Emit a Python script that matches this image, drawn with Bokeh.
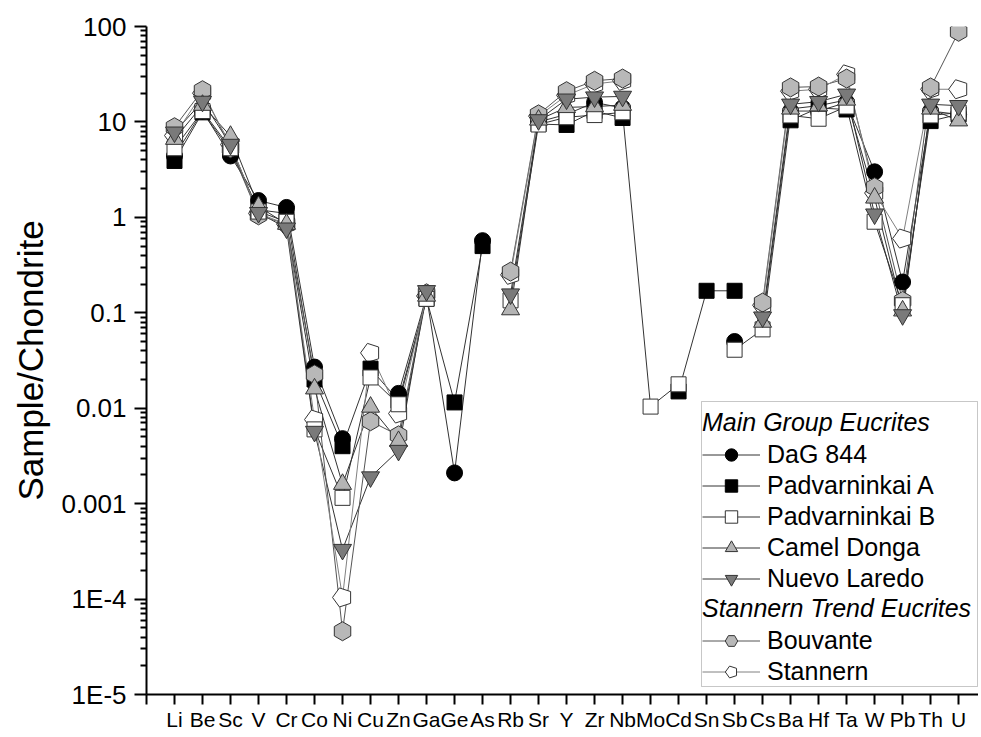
import math
from bokeh.plotting import figure
from bokeh.models import (Range1d, FixedTicker, CustomJSTickFormatter, Legend, LegendItem,
                          BoxAnnotation, ColumnDataSource)
from bokeh.embed import file_html
from bokeh.resources import INLINE

nan = float("nan")

elements = ["Li", "Be", "Sc", "V", "Cr", "Co", "Ni", "Cu", "Zn", "Ga", "Ge", "As", "Rb", "Sr", "Y",
            "Zr", "Nb", "Mo", "Cd", "Sn", "Sb", "Cs", "Ba", "Hf", "Ta", "W", "Pb", "Th", "U"]

#              Li   Be    Sc   V     Cr    Co      Ni       Cu      Zn      Ga    Ge      As    Rb     Sr    Y     Zr    Nb    Mo      Cd      Sn    Sb     Cs     Ba    Hf    Ta    W     Pb     Th    U
dag_844 =     [4.4, 13.0, 4.4, 1.50, 1.27, 0.027,  0.0048,  nan,    0.0143, 0.15, 0.0021, 0.57, nan,   10.0, 12.0, 16.0, 14.0, nan,    nan,    nan,  0.050, nan,   13.0, 13.0, 16.0, 3.0,  0.21,  13.0, 12.0]
padv_a =      [3.9, 12.6, 5.0, 1.20, 1.10, 0.020,  0.0040,  0.026,  0.012,  0.14, 0.0115, 0.50, nan,   9.5,  9.3,  13.0, 11.0, nan,    0.015,  0.17, 0.17,  nan,   10.4, 14.0, 13.5, nan,  nan,   10.2, 12.0]
padv_b =      [5.3, 13.0, 5.3, 1.15, 0.90, 0.0060, 0.00115, 0.021,  0.011,  0.14, nan,    nan,  0.135, 9.4,  11.2, 11.8, 12.6, 0.0104, 0.0178, nan,  0.041, 0.067, 11.7, 10.8, 14.5, 0.90, 0.12,  11.7, 12.5]
camel_donga = [6.6, 15.0, 7.1, 1.30, 0.85, 0.016,  0.0016,  0.0103, 0.0045, 0.15, nan,    nan,  0.108, 10.5, 14.2, 14.5, 15.0, nan,    nan,    nan,  nan,   0.080, 13.7, 14.8, 17.0, 1.60, 0.105, 13.7, 10.3]
nuevo_laredo= [7.8, 16.4, 5.8, 1.12, 0.77, 0.0057, 0.00033, 0.0019, 0.0036, 0.17, nan,    nan,  0.157, 10.5, 17.3, 18.2, 18.5, nan,    nan,    nan,  nan,   0.090, 15.3, 16.3, 19.5, 1.08, 0.095, 15.3, 14.8]
bouvante =    [8.8, 21.5, 5.3, 1.05, 0.85, 0.0226, 4.6e-5,  0.0073, 0.0052, 0.16, nan,    nan,  0.27,  12.0, 21.0, 27.0, 28.5, nan,    nan,    nan,  nan,   0.128, 23.0, 23.5, 28.5, 2.07, 0.133, 23.0, 88.0]
stannern =    [7.2, 20.0, 5.8, 1.10, 0.85, 0.0076, 0.000104,0.038,  0.0088, 0.15, nan,    nan,  0.25,  11.5, 19.0, 25.0, 27.0, nan,    nan,    nan,  nan,   0.12,  21.0, 22.0, 31.5, 1.80, 0.60,  22.0, 22.0]

y_ticks = [1e-5, 1e-4, 1e-3, 1e-2, 1e-1, 1, 10, 100]

FONT = "Liberation Sans"

p = figure(width=978, height=734, y_axis_type="log", output_backend="svg", toolbar_location=None,
           x_range=Range1d(0, 29.71), y_range=Range1d(1e-5, 100),
           min_border_left=146, min_border_top=26, min_border_right=0, min_border_bottom=40)
p.outline_line_color = None
p.xgrid.visible = False
p.ygrid.visible = False
p.background_fill_color = "white"
p.border_fill_color = "white"

xs = list(range(1, len(elements) + 1))

# x axis
p.xaxis.ticker = FixedTicker(ticks=list(range(0, len(elements) + 1)), minor_ticks=[])
p.xaxis.formatter = CustomJSTickFormatter(args=dict(names=elements), code="""
const i = Math.round(tick);
return (i >= 1 && i <= names.length) ? names[i-1] : "";
""")
p.xaxis.major_label_text_font = FONT
p.xaxis.major_label_text_font_size = "21px"
p.xaxis.major_label_text_color = "black"
p.xaxis.major_label_standoff = 3
p.xaxis.major_tick_out = 10
p.xaxis.major_tick_in = 0
p.xaxis.axis_line_width = 2
p.xaxis.major_tick_line_width = 2

# y axis
minor = [m * d for d in y_ticks[:-1] for m in range(2, 10)]
p.yaxis.ticker = FixedTicker(ticks=y_ticks, minor_ticks=minor)
p.yaxis.formatter = CustomJSTickFormatter(code="""
const e = Math.round(Math.log10(tick));
if (e >= 0) return String(Math.round(Math.pow(10, e)));
if (e >= -3) return Math.pow(10, e).toFixed(-e);
return "1E" + e;
""")
p.yaxis.major_label_text_font = FONT
p.yaxis.major_label_text_font_size = "26px"
p.yaxis.major_label_text_color = "black"
p.yaxis.major_label_standoff = 8
p.yaxis.major_tick_out = 12
p.yaxis.major_tick_in = 0
p.yaxis.minor_tick_out = 6
p.yaxis.minor_tick_in = 0
p.yaxis.axis_line_width = 2
p.yaxis.major_tick_line_width = 2
p.yaxis.minor_tick_line_width = 2
p.yaxis.axis_label = "Sample/Chondrite"
p.yaxis.axis_label_text_font = FONT
p.yaxis.axis_label_text_font_size = "35px"
p.yaxis.axis_label_text_font_style = "normal"
p.yaxis.axis_label_text_color = "black"
p.yaxis.axis_label_standoff = 8

series = [
    ("DaG 844", dag_844, "circle", "black", 16, "#333333"),
    ("Padvarninkai A", padv_a, "square", "black", 15, "#333333"),
    ("Padvarninkai B", padv_b, "square", "white", 15, "#333333"),
    ("Camel Donga", camel_donga, "triangle", "#b4b4b4", 18, "#333333"),
    ("Nuevo Laredo", nuevo_laredo, "inverted_triangle", "#7a7a7a", 18, "#333333"),
    ("Bouvante", bouvante, "hex", "#b8b8b8", 19, "#555555"),
    ("Stannern", stannern, "pentagon", "white", 10, "#808080"),
]

lines = {}
for name, vals, marker, fill, size, lc in series:
    src = ColumnDataSource(dict(x=xs, y=vals))
    lines[name] = p.line("x", "y", source=src, line_color=lc, line_width=1)

draw_order = ["Stannern", "Padvarninkai A", "DaG 844", "Bouvante", "Padvarninkai B", "Camel Donga", "Nuevo Laredo"]
marks = {}
sd = {s[0]: s for s in series}
for name in draw_order:
    _, vals, marker, fill, size, lc = sd[name]
    src = ColumnDataSource(dict(x=xs, y=vals))
    if marker == "pentagon":
        r = p.ngon("x", "y", source=src, radius=size, radius_units="screen", n=5, angle=math.pi / 2,
                   fill_color=fill, line_color="#333333", line_width=1)
    elif marker == "hex":
        r = p.scatter("x", "y", source=src, marker="hex", size=size, angle=math.pi / 2,
                      fill_color=fill, line_color="#333333", line_width=1)
    else:
        r = p.scatter("x", "y", source=src, marker=marker, size=size,
                      fill_color=fill, line_color="#333333" if fill != "black" else "black", line_width=1)
    marks[name] = r

box = BoxAnnotation(left=555, right=831, bottom=8, top=293,
                    left_units="screen", right_units="screen", top_units="screen", bottom_units="screen",
                    fill_color="white", fill_alpha=1, line_color="#444444", line_width=1)
p.add_layout(box)

def make_legend(title, names, loc):
    items = [LegendItem(label=n, renderers=[lines[n], marks[n]]) for n in names]
    lg = Legend(items=items, location=loc, title=title,
                title_text_font=FONT, title_text_font_size="25px", title_text_font_style="italic",
                title_text_color="black", title_standoff=2,
                label_text_font=FONT, label_text_font_size="25px", label_text_color="black",
                label_height=31, glyph_height=31, glyph_width=58, label_standoff=7, spacing=0,
                padding=0, margin=0, border_line_color=None, background_fill_alpha=0)
    p.add_layout(lg, "center")
    return lg

make_legend("Main Group Eucrites",
            ["DaG 844", "Padvarninkai A", "Padvarninkai B", "Camel Donga", "Nuevo Laredo"], (556, 100))
make_legend("Stannern Trend Eucrites", ["Bouvante", "Stannern"], (556, 7))

open("out.html", "w").write(file_html(p, INLINE))
